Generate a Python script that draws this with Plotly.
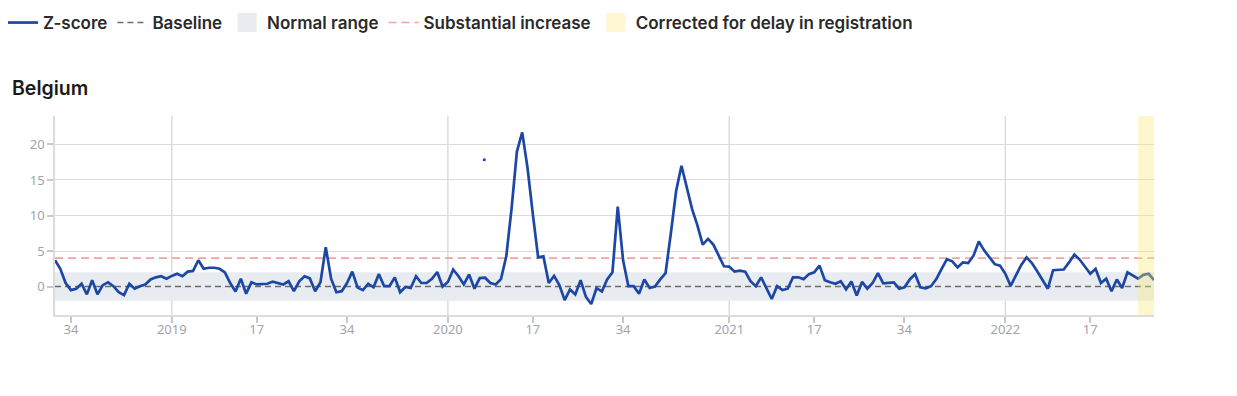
import datetime
import plotly.graph_objects as go

# ---------------- data ----------------
start_year, start_week = 2018, 31

zscore = [
    3.7, 2.5, 0.5, -0.5, -0.3, 0.4, -1.1, 0.9, -1.1, 0.2,
    0.6, 0.05, -0.8, -1.2, 0.4, -0.3, 0.05, 0.3, 1.0, 1.3,
    1.45, 1.1, 1.5, 1.8, 1.45, 2.1, 2.2, 3.7, 2.5, 2.65,
    2.65, 2.5, 2.0, 0.5, -0.7, 1.1, -1.0, 0.6, 0.3, 0.3,
    0.4, 0.7, 0.5, 0.3, 0.75, -0.65, 0.75, 1.45, 1.15, -0.65,
    0.6, 5.55, 1.1, -0.8, -0.65, 0.5, 2.1, -0.15, -0.5, 0.4,
    -0.1, 1.75, 0.05, 0.05, 1.3, -0.8, -0.05, -0.2, 1.45, 0.5,
    0.5, 1.1, 2.05, 0.0, 0.65, 2.4, 1.45, 0.3, 1.7, -0.3,
    1.2, 1.25, 0.5, 0.3, 1.05, 4.25, 11.0, 19.0, 21.7, 16.7,
    10.2, 4.1, 4.25, 0.5, 1.5, 0.2, -1.9, -0.4, -1.1, 0.9,
    -1.45, -2.45, -0.2, -0.7, 1.0, 2.0, 11.25, 3.7, 0.05, 0.05,
    -1.0, 1.0, -0.2, 0.0, 1.0, 1.9, 7.5, 13.5, 17.0, 14.0,
    10.9, 8.6, 5.9, 6.7, 5.9, 4.4, 2.85, 2.8, 2.1, 2.25,
    2.1, 0.75, 0.05, 1.3, -0.3, -1.75, 0.05, -0.5, -0.3, 1.3,
    1.3, 1.05, 1.75, 2.0, 2.95, 0.9, 0.6, 0.4, 0.75, -0.4,
    0.7, -1.25, 0.65, -0.3, 0.5, 1.9, 0.45, 0.5, 0.6, -0.3,
    -0.1, 1.0, 1.75, -0.1, -0.25, 0.05, 1.05, 2.5, 3.85, 3.55,
    2.7, 3.4, 3.3, 4.35, 6.35, 5.1, 4.15, 3.15, 2.95, 1.8,
    0.1, 1.65, 3.05, 4.1, 3.3, 2.15, 0.9, -0.3, 2.3, 2.3,
    2.4, 3.4, 4.5, 3.8, 2.85, 1.8, 2.5, 0.5, 1.1, -0.65,
    1.0, -0.2, 2.0, 1.6, 1.1, 1.65, 1.8, 0.9,
]

baseline_value = 0
normal_low, normal_high = -2, 2
substantial_value = 4

tick_weeks = ["2018-W34", "2019-W01", "2019-W17", "2019-W34", "2020-W01", "2020-W17",
              "2020-W34", "2021-W01", "2021-W17", "2021-W34", "2022-W01", "2022-W17"]
tick_labels = ["34", "2019", "17", "34", "2020", "17", "34", "2021", "17", "34", "2022", "17"]
year_weeks = ["2019-W01", "2020-W01", "2021-W01", "2022-W01"]

corrected_first, corrected_last = "2022-W26", "2022-W29"

stray_x = [80.85]
stray_y = [17.86]

# ---------------- week index ----------------
d0 = datetime.date.fromisocalendar(start_year, start_week, 1)
weeks = []
for i in range(len(zscore)):
    y, w, _ = (d0 + datetime.timedelta(weeks=i)).isocalendar()
    weeks.append(f"{y}-W{w:02d}")
xs = list(range(len(weeks)))
pos = {w: i for i, w in enumerate(weeks)}
x_min, x_max = xs[0], xs[-1]

BLUE = "#1c47a5"
FONT = "Noto Sans"
W, H = 1229, 388
ML, MR, MT, MB = 47, 83, 108, 81
PW, PH = W - ML - MR, H - MT - MB

fig = go.Figure()

fig.add_trace(go.Scatter(
    x=[x_min, x_max, x_max, x_min], y=[normal_low, normal_low, normal_high, normal_high],
    fill="toself", fillcolor="#e8ecf0", mode="none", hoverinfo="skip",
    name="Normal range", showlegend=False))
fig.add_trace(go.Scatter(
    x=[x_min, x_max], y=[baseline_value, baseline_value], mode="lines",
    line=dict(color="#6b6b6b", width=1.6, dash="6px,4px"),
    name="Baseline", legendrank=2))
fig.add_trace(go.Scatter(
    x=[x_min, x_max], y=[substantial_value, substantial_value], mode="lines",
    line=dict(color="#f4a3a3", width=1.6, dash="8px,5px"),
    name="Substantial increase", legendrank=4))
fig.add_trace(go.Scatter(
    x=xs, y=zscore, mode="lines", line=dict(color=BLUE, width=2.7),
    name="Z-score", legendrank=1))
fig.add_trace(go.Scatter(
    x=[None], y=[None], mode="markers",
    marker=dict(symbol="square", size=16, color="#e8ecf0", line=dict(color="#e8ecf0", width=3)),
    name="Normal range", legendrank=3))
fig.add_trace(go.Scatter(
    x=[None], y=[None], mode="markers",
    marker=dict(symbol="square", size=16, color="#fff7d4", line=dict(color="#fff7d4", width=3)),
    name="Corrected for delay in registration", legendrank=5))
fig.add_trace(go.Scatter(
    x=stray_x, y=stray_y, mode="markers",
    marker=dict(size=3, color="#2a2aff"), showlegend=False, hoverinfo="skip"))

shapes = []
for w in year_weeks:
    shapes.append(dict(type="line", xref="x", yref="paper", x0=pos[w], x1=pos[w], y0=0, y1=1,
                       line=dict(color="#dcdcdc", width=1.5), layer="below"))
shapes.append(dict(type="rect", xref="x", yref="paper",
                   x0=pos[corrected_first], x1=pos[corrected_last], y0=0, y1=1,
                   fillcolor="rgba(253,232,120,0.36)", line=dict(width=0), layer="above"))

fig.update_layout(
    width=W, height=H,
    margin=dict(l=ML, r=MR, t=MT, b=MB, autoexpand=False),
    paper_bgcolor="white", plot_bgcolor="white",
    font=dict(family=FONT, color="#222222"),
    shapes=shapes,
    title=dict(text="Belgium", xref="container", x=4 / W, xanchor="left",
               yref="container", y=1 - 80 / H, yanchor="middle",
               font=dict(size=19.5, weight=600, color="#1a1a1a", family="Inter")),
    legend=dict(orientation="h", xref="paper", yref="paper",
                x=(-5 - ML) / PW, y=1 + (MT + 3) / PH, xanchor="left", yanchor="top",
                bgcolor="rgba(0,0,0,0)",
                font=dict(size=17, weight=600, color="#2a2a2a", family="Inter"),
                itemclick=False, traceorder="normal"),
    showlegend=True,
)
fig.update_xaxes(
    range=[x_min, x_max], tickmode="array",
    tickvals=[pos[w] for w in tick_weeks], ticktext=tick_labels,
    showgrid=False, zeroline=False,
    showline=True, linecolor="#dcdcdc", linewidth=1.5,
    ticks="outside", ticklen=6, tickcolor="#c8c8c8", tickwidth=1.5,
    ticklabelstandoff=-4,
    tickfont=dict(size=13, color="#a3a3ab", family=FONT),
)
fig.update_yaxes(
    range=[-4, 24], tickvals=[0, 5, 10, 15, 20],
    showgrid=True, gridcolor="#dcdcdc", gridwidth=1.3, zeroline=False,
    showline=True, linecolor="#dcdcdc", linewidth=1.5,
    ticks="outside", ticklen=6, tickcolor="#c8c8c8", tickwidth=1.5,
    tickfont=dict(size=13, color="#a3a3ab", family=FONT),
)

fig.write_html("out.html")
